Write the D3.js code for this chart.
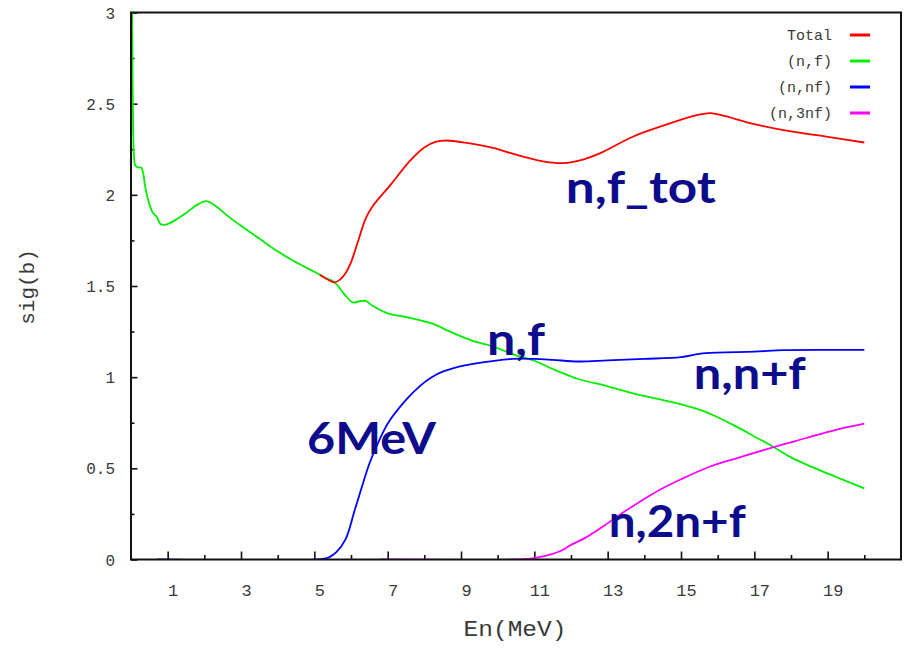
<!DOCTYPE html>
<html>
<head>
<meta charset="utf-8">
<script src="https://cdn.jsdelivr.net/npm/d3@7/dist/d3.min.js"></script>
<style>
  html, body { margin: 0; padding: 0; background: #fff; }
  svg { display: block; }
</style>
</head>
<body>
<svg id="chart" width="914" height="649"></svg>
<script>
// ---------------- DATA ----------------
const seriesNames = ["Total", "(n,f)", "(n,nf)", "(n,3nf)"];
const seriesColors = ["#ff0000", "#00ee00", "#0000ff", "#ff00ff"];

const totalE   = [5.15, 5.35, 5.55, 5.7, 5.85, 6.0, 6.2, 6.4, 6.6, 7.1, 7.6, 8.0, 8.3, 8.6, 9.2, 9.9, 10.5, 11.2, 11.8, 12.3, 12.8, 13.7, 14.6, 15.3, 15.8, 16.15, 17.0, 18.0, 19.0, 20.0];
const totalSig = [1.562, 1.537, 1.52, 1.535, 1.57, 1.63, 1.75, 1.87, 1.94, 2.06, 2.185, 2.26, 2.29, 2.298, 2.283, 2.256, 2.22, 2.185, 2.174, 2.192, 2.229, 2.32, 2.385, 2.43, 2.448, 2.434, 2.388, 2.348, 2.318, 2.287];

const nfE   = [0.03, 0.045, 0.06, 0.08, 0.12, 0.2, 0.28, 0.33, 0.4, 0.5, 0.6, 0.7, 0.8, 0.9, 1.0, 1.2, 1.5, 1.8, 2.05, 2.3, 2.6, 3.0, 3.5, 4.0, 4.5, 5.0, 5.3, 5.55, 5.8, 6.05, 6.2, 6.4, 6.6, 7.0, 7.5, 8.2, 8.7, 9.3, 9.9, 10.5, 11.0, 11.5, 12.2, 13.0, 13.8, 14.6, 15.2, 15.6, 16.0, 16.5, 17.0, 17.5, 18.0, 18.6, 19.2, 20.0];
const nfSig = [3.0, 2.6, 2.35, 2.22, 2.16, 2.15, 2.15, 2.12, 2.03, 1.95, 1.90, 1.88, 1.84, 1.835, 1.84, 1.86, 1.90, 1.945, 1.965, 1.94, 1.89, 1.83, 1.76, 1.69, 1.63, 1.578, 1.545, 1.52, 1.46, 1.41, 1.415, 1.418, 1.39, 1.35, 1.33, 1.295, 1.25, 1.20, 1.166, 1.12, 1.09, 1.045, 0.99, 0.95, 0.905, 0.87, 0.84, 0.815, 0.78, 0.73, 0.675, 0.62, 0.56, 0.505, 0.455, 0.39];

const nnfE   = [0.72, 5.1, 5.4, 5.6, 5.85, 6.1, 6.3, 6.5, 6.75, 7.0, 7.5, 7.9, 8.2, 8.5, 8.8, 9.5, 10.4, 11.0, 11.5, 12.2, 13.0, 14.0, 15.0, 15.5, 16.0, 17.0, 17.8, 19.0, 20.0];
const nnfSig = [0, 0, 0.012, 0.04, 0.11, 0.27, 0.40, 0.525, 0.645, 0.745, 0.875, 0.955, 1.0, 1.03, 1.05, 1.078, 1.10, 1.10, 1.095, 1.086, 1.092, 1.10, 1.11, 1.128, 1.135, 1.14, 1.148, 1.15, 1.15];

const n3nfE   = [6.78, 10.5, 10.9, 11.3, 11.7, 12.0, 12.4, 12.9, 13.4, 13.9, 14.4, 15.0, 15.8, 16.6, 17.5, 18.4, 19.2, 20.0];
const n3nfSig = [0, 0, 0.005, 0.02, 0.045, 0.08, 0.12, 0.185, 0.255, 0.32, 0.38, 0.44, 0.51, 0.56, 0.615, 0.665, 0.71, 0.745];

const xTickLabels = [1, 3, 5, 7, 9, 11, 13, 15, 17, 19];
const xMinorTicks = [2, 4, 6, 8, 10, 12, 14, 16, 18, 20];
const yTickLabels = [0, 0.5, 1, 1.5, 2, 2.5, 3];
const yMinorTicks = [0.25, 0.75, 1.25, 1.75, 2.25, 2.75];

const annoText = ["n,f_tot", "n,f", "n,n+f", "6MeV", "n,2n+f"];
const annoE    = [11.86, 9.71, 15.35, 4.8, 13.03];
const annoSig  = [1.955, 1.12, 0.937, 0.579, 0.124];
const annoLen  = [150, 58, 112, 129, 137];

// ---------------- CHART ----------------
const svg = d3.select("#chart");
const mLeft = 131, mRight = 901, mTop = 12.5, mBottom = 559.5;

const x = d3.scaleLinear().domain([0, 21]).range([mLeft, mRight]);
const y = d3.scaleLinear().domain([0, 3]).range([mBottom, mTop]);

svg.append("defs").append("clipPath").attr("id", "plotclip")
  .append("rect").attr("x", mLeft).attr("y", mTop).attr("width", mRight - mLeft).attr("height", mBottom - mTop);

const monoFont = "'Courier New', 'Liberation Mono', 'DejaVu Sans Mono', monospace";
const textCol = "#3a3a3a";

// X axis minor ticks
const xMinor = svg.append("g").attr("transform", `translate(0,${mBottom})`)
  .call(d3.axisBottom(x).tickValues(xMinorTicks).tickSize(-4.5).tickFormat(""));
// X axis major ticks + labels
const xMajor = svg.append("g").attr("transform", `translate(0,${mBottom})`)
  .call(d3.axisBottom(x).tickValues(xTickLabels).tickSize(-8).tickFormat(d3.format("d")));
[xMinor, xMajor].forEach(g => {
  g.select(".domain").remove();
  g.selectAll(".tick line").attr("stroke", "#111").attr("stroke-width", 1.6);
});
xMajor.selectAll(".tick text")
  .attr("y", 36).attr("dy", 0).attr("dx", 5)
  .attr("font-family", monoFont).attr("font-size", 17).attr("fill", textCol);

// Y axis
const yMinor = svg.append("g").attr("transform", `translate(${mLeft},0)`)
  .call(d3.axisLeft(y).tickValues(yMinorTicks).tickSize(-3.5).tickFormat(""));
const yMajor = svg.append("g").attr("transform", `translate(${mLeft},0)`)
  .call(d3.axisLeft(y).tickValues(yTickLabels).tickSize(-6.5).tickFormat(d3.format("")));
[yMinor, yMajor].forEach(g => {
  g.select(".domain").remove();
  g.selectAll(".tick line").attr("stroke", "#111").attr("stroke-width", 1.6);
});
yMajor.selectAll(".tick text")
  .attr("x", -16).attr("dy", "0.35em")
  .attr("font-family", monoFont).attr("font-size", 16).attr("fill", textCol);

// axis titles
svg.append("text").attr("x", 515).attr("y", 636).attr("text-anchor", "middle")
  .attr("font-family", monoFont).attr("font-size", 22).attr("fill", textCol)
  .attr("textLength", 103).attr("lengthAdjust", "spacingAndGlyphs").text("En(MeV)");
svg.append("text").attr("transform", "translate(34,287) rotate(-90)").attr("text-anchor", "middle")
  .attr("font-family", monoFont).attr("font-size", 21).attr("fill", textCol).text("sig(b)");

// series
const line = d3.line().x(d => x(d[0])).y(d => y(d[1])).curve(d3.curveCatmullRom.alpha(0.5));
const seriesData = [
  d3.zip(totalE, totalSig),
  d3.zip(nfE, nfSig),
  d3.zip(nnfE, nnfSig),
  d3.zip(n3nfE, n3nfSig)
];
const plot = svg.append("g").attr("clip-path", "url(#plotclip)");
[1, 2, 3, 0].forEach(i => {
  plot.append("path").datum(seriesData[i])
    .attr("d", line).attr("fill", "none")
    .attr("stroke", seriesColors[i]).attr("stroke-width", 1.8)
    .attr("stroke-linejoin", "round");
});

// frame
svg.append("rect").attr("x", mLeft).attr("y", mTop).attr("width", mRight - mLeft).attr("height", mBottom - mTop)
  .attr("fill", "none").attr("stroke", "#111").attr("stroke-width", 2);

// legend
const legend = svg.append("g");
seriesNames.forEach((name, i) => {
  const yy = 35 + i * 26;
  legend.append("text").attr("x", 832).attr("y", yy).attr("dy", "0.35em").attr("text-anchor", "end")
    .attr("font-family", monoFont).attr("font-size", 15).attr("fill", textCol).text(name);
  legend.append("line").attr("x1", 850).attr("x2", 870).attr("y1", yy).attr("y2", yy)
    .attr("stroke", seriesColors[i]).attr("stroke-width", 3);
});

// annotations
annoText.forEach((t, i) => {
  svg.append("text").attr("x", x(annoE[i])).attr("y", y(annoSig[i]))
    .attr("font-family", "Lato, 'Open Sans', sans-serif").attr("font-weight", 700)
    .attr("font-size", 44).attr("fill", "#0c0c8c")
    .attr("textLength", annoLen[i]).attr("lengthAdjust", "spacingAndGlyphs")
    .text(t);
});
</script>
</body>
</html>
